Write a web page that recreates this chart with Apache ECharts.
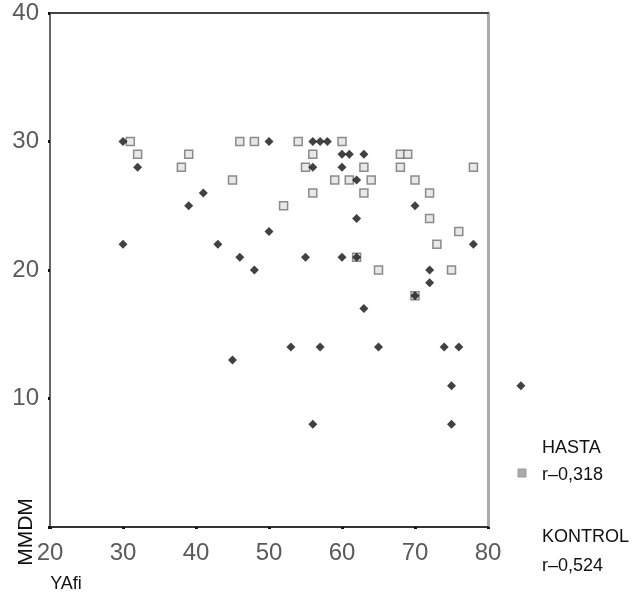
<!DOCTYPE html>
<html>
<head>
<meta charset="utf-8">
<script src="https://cdn.jsdelivr.net/npm/echarts@6/dist/echarts.min.js"></script>
<style>
  html, body { margin: 0; padding: 0; background: #fff; }
  #chart { width: 632px; height: 596px; }
</style>
</head>
<body>
<div id="chart"></div>
<script>
// HASTA group (age, MMDM)
const hastaAge  = [31, 32, 39, 38, 46, 48, 54, 45, 52, 60, 56, 68, 69, 55, 63, 68, 78, 59, 61, 64, 70, 56, 63, 72, 72, 76, 73, 62, 65, 75, 70];
const hastaMmdm = [30, 29, 29, 28, 30, 30, 30, 27, 25, 30, 29, 29, 29, 28, 28, 28, 28, 27, 27, 27, 27, 26, 26, 26, 24, 23, 22, 21, 20, 20, 18];

// KONTROL group (age, MMDM)
const kontrolAge  = [30, 32, 41, 39, 50, 50, 30, 43, 46, 48, 56, 57, 58, 60, 61, 63, 56, 60, 62, 70, 62, 78, 55, 60, 62, 72, 72, 70, 63, 45, 53, 57, 65, 74, 76, 75, 84.5, 56, 75];
const kontrolMmdm = [30, 28, 26, 25, 30, 23, 22, 22, 21, 20, 30, 30, 30, 29, 29, 29, 28, 28, 27, 25, 24, 22, 21, 21, 21, 20, 19, 18, 17, 13, 14, 14, 14, 14, 14, 11, 11, 8, 8];

const xTicks = [20, 30, 40, 50, 60, 70, 80];
const yTicks = [10, 20, 30, 40];

const chart = echarts.init(document.getElementById('chart'));

const FONT = '"Liberation Sans", Arial, sans-serif';
const labelFont = { fontFamily: FONT, fontSize: 24, color: '#5a5a5a' };

const option = {
  animation: false,
  backgroundColor: '#fff',
  grid: { left: 50, right: 144, top: 13, bottom: 69 },
  xAxis: [
    {
      type: 'value', min: 20, max: 80, interval: 10,
      axisLine: { lineStyle: { color: '#333', width: 2 } },
      axisTick: { show: true, length: 2, lineStyle: { color: '#111', width: 3 } },
      splitLine: { show: false },
      axisLabel: Object.assign({ margin: 14, formatter: v => xTicks.includes(v) ? String(v) : '' }, labelFont)
    },
    {
      type: 'value', position: 'top', min: 20, max: 80,
      axisLine: { show: true, onZero: false, lineStyle: { color: '#444', width: 2 } },
      axisTick: { show: false }, axisLabel: { show: false }, splitLine: { show: false }
    }
  ],
  yAxis: [
    {
      type: 'value', min: 0, max: 40, interval: 10,
      axisLine: { show: true, onZero: false, lineStyle: { color: '#666', width: 2 } },
      axisTick: { show: true, length: 2, lineStyle: { color: '#111', width: 3 } },
      splitLine: { show: false },
      axisLabel: Object.assign({ margin: 11, formatter: v => yTicks.includes(v) ? String(v) : '' }, labelFont)
    },
    {
      type: 'value', position: 'right', min: 0, max: 40,
      axisLine: { show: true, onZero: false, lineStyle: { color: '#aaa', width: 3 } },
      axisTick: { show: false }, axisLabel: { show: false }, splitLine: { show: false }
    }
  ],
  series: [
    {
      name: 'HASTA',
      type: 'scatter',
      symbol: 'rect',
      symbolSize: 8,
      itemStyle: { color: '#e2e2e2', borderColor: '#707070', borderWidth: 1.5 },
      data: hastaAge.map((a, i) => [a, hastaMmdm[i]])
    },
    {
      name: 'KONTROL',
      type: 'scatter',
      symbol: 'diamond',
      symbolSize: 9,
      clip: false,
      itemStyle: { color: '#111' },
      data: kontrolAge.map((a, i) => [a, kontrolMmdm[i]])
    }
  ],
  graphic: [
    { type: 'text', x: 542, y: 448, style: { text: 'HASTA', font: '18px ' + FONT, fill: '#111', verticalAlign: 'middle' } },
    { type: 'text', x: 542, y: 475, style: { text: 'r–0,318', font: '18px ' + FONT, fill: '#111', verticalAlign: 'middle' } },
    { type: 'rect', shape: { x: 518, y: 469, width: 8, height: 8 }, style: { fill: '#aaa', stroke: '#999', lineWidth: 1 } },
    { type: 'text', x: 542, y: 537, style: { text: 'KONTROL', font: '18px ' + FONT, fill: '#111', verticalAlign: 'middle' } },
    { type: 'text', x: 542, y: 566, style: { text: 'r–0,524', font: '18px ' + FONT, fill: '#111', verticalAlign: 'middle' } },
    { type: 'text', x: 26, y: 532, rotation: Math.PI / 2, style: { text: 'MMDM', font: '21px ' + FONT, fill: '#111', align: 'center', verticalAlign: 'middle' } },
    { type: 'text', x: 66, y: 584, style: { text: 'YAfi', font: '18px ' + FONT, fill: '#111', align: 'center', verticalAlign: 'middle' } }
  ]
};

chart.setOption(option);
</script>
</body>
</html>
